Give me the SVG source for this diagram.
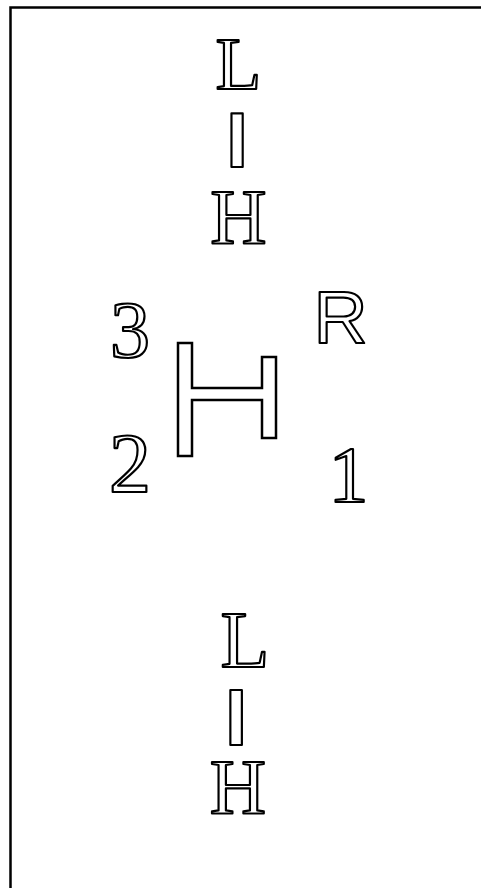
<svg xmlns="http://www.w3.org/2000/svg" width="481" height="888" viewBox="0 0 481 888">
<style>
.o{fill:#fff;stroke:#000;stroke-width:2.2;stroke-linejoin:round;text-anchor:middle}
.serif{font-family:"Liberation Serif","Times New Roman",serif}
.sans{font-family:"Liberation Sans",Arial,sans-serif}
</style>
<rect width="481" height="888" fill="#fff"/>
<path d="M10.5,888 V7.5 H481" fill="none" stroke="#000" stroke-width="2.5"/>
<g id="top-L"><text class="o serif" x="238.5" y="89" font-size="75">L</text></g>
<g id="top-I"><text class="o sans" x="237" y="167" font-size="78" font-weight="bold">I</text></g>
<g id="top-H"><text class="o serif" x="238.5" y="243" font-size="78">H</text></g>
<g id="gear-3"><text class="o serif" x="130" y="357" font-size="80">3</text></g>
<g id="gear-2"><text class="o serif" x="130" y="492" font-size="84">2</text></g>
<g id="gear-R"><text class="o sans" x="340.5" y="343" font-size="75">R</text></g>
<g id="gear-1"><text class="o serif" x="348.5" y="502" font-size="80">1</text></g>
<g id="shift-pattern"><path d="M178,343 H192 V388 H262 V357 H276 V438 H262 V400 H192 V456 H178 Z" fill="#fff" stroke="#000" stroke-width="2.5"/></g>
<g id="bottom-L"><text class="o serif" x="245" y="667" font-size="80">L</text></g>
<g id="bottom-I"><text class="o sans" x="236" y="745" font-size="80" font-weight="bold">I</text></g>
<g id="bottom-H"><text class="o serif" x="238" y="813" font-size="78">H</text></g>
<g id="connectors"></g>
</svg>
